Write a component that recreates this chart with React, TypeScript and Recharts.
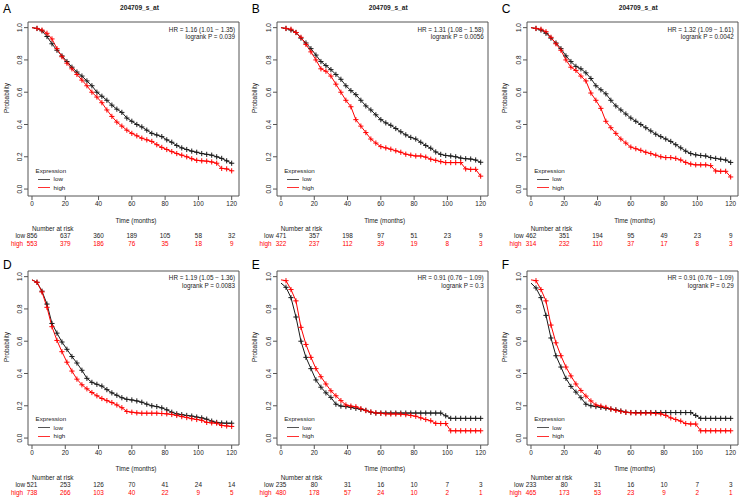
import React from 'react';
import { ComposedChart, Line, XAxis, YAxis, ReferenceArea, Legend } from 'recharts';

// follow-up grid (months) shared by every curve
const TIMES = [0, 3, 6, 9, 12, 15, 18, 21, 24, 27, 30, 33, 36, 39, 42, 45, 48, 51, 54, 57, 60, 63, 66, 69, 72, 75, 78, 81, 84, 87, 90, 93, 96, 99, 102, 105, 108, 111, 114, 117, 120];

const X_TICKS = [0, 20, 40, 60, 80, 100, 120];
const Y_TICKS = [0, 0.2, 0.4, 0.6, 0.8, 1];

// survival probabilities
const A_LOW = [1.0, 0.995, 0.98, 0.945, 0.9, 0.86, 0.825, 0.79, 0.755, 0.725, 0.7, 0.67, 0.64, 0.6, 0.575, 0.55, 0.52, 0.495, 0.475, 0.44, 0.42, 0.4, 0.385, 0.365, 0.345, 0.335, 0.325, 0.305, 0.29, 0.27, 0.255, 0.245, 0.235, 0.228, 0.22, 0.215, 0.21, 0.2, 0.19, 0.175, 0.16];
const A_HIGH = [1.0, 0.995, 0.985, 0.965, 0.93, 0.87, 0.82, 0.78, 0.745, 0.71, 0.675, 0.64, 0.6, 0.57, 0.535, 0.49, 0.45, 0.415, 0.39, 0.365, 0.345, 0.33, 0.315, 0.305, 0.295, 0.275, 0.258, 0.245, 0.232, 0.22, 0.21, 0.2, 0.188, 0.178, 0.175, 0.173, 0.168, 0.16, 0.128, 0.125, 0.113];
const B_LOW = [1.0, 0.995, 0.985, 0.97, 0.935, 0.905, 0.87, 0.83, 0.79, 0.765, 0.74, 0.71, 0.68, 0.64, 0.61, 0.585, 0.55, 0.515, 0.49, 0.46, 0.43, 0.41, 0.395, 0.375, 0.355, 0.336, 0.32, 0.31, 0.29, 0.27, 0.253, 0.23, 0.215, 0.208, 0.205, 0.2, 0.192, 0.188, 0.186, 0.18, 0.166];
const B_HIGH = [1.0, 0.995, 0.99, 0.97, 0.94, 0.896, 0.85, 0.8, 0.745, 0.73, 0.7, 0.65, 0.6, 0.55, 0.51, 0.43, 0.39, 0.35, 0.31, 0.285, 0.263, 0.255, 0.247, 0.237, 0.228, 0.216, 0.21, 0.205, 0.205, 0.198, 0.185, 0.178, 0.17, 0.164, 0.164, 0.164, 0.164, 0.125, 0.122, 0.122, 0.08];
const C_LOW = [1.0, 0.995, 0.985, 0.965, 0.935, 0.905, 0.87, 0.825, 0.79, 0.76, 0.745, 0.72, 0.685, 0.64, 0.615, 0.59, 0.55, 0.515, 0.49, 0.465, 0.44, 0.42, 0.4, 0.38, 0.36, 0.34, 0.325, 0.31, 0.295, 0.275, 0.255, 0.235, 0.22, 0.212, 0.208, 0.205, 0.195, 0.19, 0.185, 0.18, 0.165];
const C_HIGH = [1.0, 0.995, 0.99, 0.975, 0.94, 0.9, 0.86, 0.8, 0.755, 0.735, 0.7, 0.67, 0.595, 0.55, 0.5, 0.42, 0.38, 0.345, 0.31, 0.285, 0.26, 0.25, 0.24, 0.228, 0.22, 0.21, 0.2, 0.195, 0.195, 0.19, 0.18, 0.165, 0.155, 0.15, 0.15, 0.15, 0.145, 0.112, 0.11, 0.11, 0.075];
const D_LOW = [0.98, 0.965, 0.91, 0.83, 0.71, 0.65, 0.595, 0.55, 0.505, 0.465, 0.42, 0.37, 0.345, 0.333, 0.322, 0.3, 0.28, 0.265, 0.25, 0.24, 0.236, 0.23, 0.222, 0.21, 0.2, 0.195, 0.187, 0.175, 0.16, 0.15, 0.145, 0.14, 0.136, 0.13, 0.125, 0.117, 0.105, 0.097, 0.093, 0.092, 0.092];
const D_HIGH = [0.98, 0.965, 0.905, 0.81, 0.69, 0.605, 0.535, 0.47, 0.415, 0.365, 0.33, 0.305, 0.282, 0.262, 0.245, 0.232, 0.22, 0.205, 0.188, 0.165, 0.16, 0.156, 0.154, 0.154, 0.154, 0.154, 0.152, 0.15, 0.146, 0.14, 0.133, 0.127, 0.12, 0.115, 0.11, 0.097, 0.094, 0.092, 0.078, 0.075, 0.072];
const E_LOW = [0.96, 0.934, 0.87, 0.75, 0.6, 0.5, 0.43, 0.36, 0.315, 0.28, 0.252, 0.21, 0.198, 0.195, 0.19, 0.184, 0.178, 0.172, 0.16, 0.155, 0.155, 0.155, 0.155, 0.155, 0.155, 0.155, 0.155, 0.155, 0.155, 0.155, 0.155, 0.155, 0.155, 0.138, 0.122, 0.122, 0.122, 0.122, 0.122, 0.122, 0.122];
const E_HIGH = [0.98, 0.975, 0.92, 0.85, 0.686, 0.58, 0.5, 0.43, 0.38, 0.335, 0.293, 0.262, 0.232, 0.205, 0.198, 0.194, 0.182, 0.17, 0.162, 0.156, 0.153, 0.15, 0.149, 0.149, 0.148, 0.145, 0.14, 0.135, 0.125, 0.115, 0.107, 0.091, 0.09, 0.09, 0.045, 0.045, 0.045, 0.045, 0.045, 0.045, 0.045];
const F_LOW = [0.96, 0.93, 0.87, 0.76, 0.62, 0.51, 0.44, 0.37, 0.32, 0.285, 0.25, 0.21, 0.2, 0.195, 0.19, 0.185, 0.18, 0.175, 0.168, 0.16, 0.158, 0.158, 0.158, 0.158, 0.158, 0.158, 0.158, 0.158, 0.158, 0.158, 0.158, 0.158, 0.158, 0.14, 0.122, 0.122, 0.122, 0.122, 0.122, 0.122, 0.122];
const F_HIGH = [0.98, 0.975, 0.92, 0.85, 0.7, 0.59, 0.51, 0.44, 0.385, 0.335, 0.295, 0.26, 0.23, 0.205, 0.198, 0.19, 0.18, 0.172, 0.165, 0.16, 0.157, 0.155, 0.155, 0.155, 0.155, 0.152, 0.15, 0.14, 0.125, 0.115, 0.105, 0.09, 0.087, 0.087, 0.045, 0.045, 0.045, 0.045, 0.045, 0.045, 0.045];

// number at risk under each x tick
const A_RISK_LOW = [856, 637, 360, 189, 105, 58, 32];
const A_RISK_HIGH = [553, 379, 186, 76, 35, 18, 9];
const B_RISK_LOW = [471, 357, 198, 97, 51, 23, 9];
const B_RISK_HIGH = [322, 237, 112, 39, 19, 8, 3];
const C_RISK_LOW = [462, 351, 194, 95, 49, 23, 9];
const C_RISK_HIGH = [314, 232, 110, 37, 17, 8, 3];
const D_RISK_LOW = [521, 253, 126, 70, 41, 24, 14];
const D_RISK_HIGH = [738, 266, 103, 40, 22, 9, 5];
const E_RISK_LOW = [235, 80, 31, 16, 10, 7, 3];
const E_RISK_HIGH = [480, 178, 57, 24, 10, 2, 1];
const F_RISK_LOW = [233, 80, 31, 16, 10, 7, 3];
const F_RISK_HIGH = [465, 173, 53, 23, 9, 2, 1];

const X_DOMAIN: [number, number] = [-2.4, 124.4];
const Y_DOMAIN: [number, number] = [-0.043, 1.035];

const FONT = '"Liberation Sans", Arial, Helvetica, sans-serif';
const TEXT = '#222';
const RED = '#ff0000';
const BLACK = '#1a1a1a';
const AXIS = '#555';
const FS = 6.4;

const W = 243;
const H = 250;

const PANELS = [
  { letter: 'A', left: 0, top: 0, title: true, low: A_LOW, high: A_HIGH, riskLow: A_RISK_LOW, riskHigh: A_RISK_HIGH, hr: 'HR = 1.16 (1.01 − 1.35)', p: 'logrank P = 0.039' },
  { letter: 'B', left: 248.7, top: 0, title: true, low: B_LOW, high: B_HIGH, riskLow: B_RISK_LOW, riskHigh: B_RISK_HIGH, hr: 'HR = 1.31 (1.08 − 1.58)', p: 'logrank P = 0.0056' },
  { letter: 'C', left: 498.7, top: 0, title: true, low: C_LOW, high: C_HIGH, riskLow: C_RISK_LOW, riskHigh: C_RISK_HIGH, hr: 'HR = 1.32 (1.09 − 1.61)', p: 'logrank P = 0.0042' },
  { letter: 'D', left: 0, top: 248.5, title: false, low: D_LOW, high: D_HIGH, riskLow: D_RISK_LOW, riskHigh: D_RISK_HIGH, hr: 'HR = 1.19 (1.05 − 1.36)', p: 'logrank P = 0.0083' },
  { letter: 'E', left: 248.7, top: 248.5, title: false, low: E_LOW, high: E_HIGH, riskLow: E_RISK_LOW, riskHigh: E_RISK_HIGH, hr: 'HR = 0.91 (0.76 − 1.09)', p: 'logrank P = 0.3' },
  { letter: 'F', left: 498.7, top: 248.5, title: false, low: F_LOW, high: F_HIGH, riskLow: F_RISK_LOW, riskHigh: F_RISK_HIGH, hr: 'HR = 0.91 (0.76 − 1.09)', p: 'logrank P = 0.29' },
];

// censoring "+" marks
const cross = (color: string) => (props: any) => {
  const { cx, cy, index } = props;
  if (index === 0 || cx == null || cy == null) return <g key={`c-${index}`} />;
  return (
    <path
      key={`c-${index}`}
      d={`M${cx - 2.6},${cy}h5.2M${cx},${cy - 2.6}v5.2`}
      stroke={color}
      strokeWidth={1}
      fill="none"
    />
  );
};

const YTick = (props: any) => {
  const { x, y, payload } = props;
  return (
    <text
      x={x}
      y={y}
      transform={`rotate(-90 ${x} ${y})`}
      textAnchor="middle"
      fontSize={FS}
      fill={TEXT}
    >
      {Number(payload.value).toFixed(1)}
    </text>
  );
};

const makeXTick = (riskLow: number[], riskHigh: number[]) => (props: any) => {
  const { x, y, payload } = props;
  const i = X_TICKS.indexOf(payload.value);
  return (
    <g>
      <text x={x} y={y + 4.4} textAnchor="middle" fontSize={FS} fill={TEXT}>{payload.value}</text>
      <text x={x} y={y + 36.4} textAnchor="middle" fontSize={FS} fill={TEXT}>{riskLow[i]}</text>
      <text x={x} y={y + 44.4} textAnchor="middle" fontSize={FS} fill={RED}>{riskHigh[i]}</text>
    </g>
  );
};

const KmLegend = () => (
  <div style={{ fontSize: 6.2, color: TEXT, lineHeight: '8.5px', fontFamily: FONT, whiteSpace: 'nowrap' }}>
    <div>Expression</div>
    <div style={{ display: 'flex', alignItems: 'center' }}>
      <span style={{ display: 'inline-block', width: 12.3, borderTop: '1px solid #555', marginLeft: 2.5, marginRight: 3.3 }} />
      low
    </div>
    <div style={{ display: 'flex', alignItems: 'center' }}>
      <span style={{ display: 'inline-block', width: 12.3, borderTop: '1px solid #ff3030', marginLeft: 2.5, marginRight: 3.3 }} />
      high
    </div>
  </div>
);

const txt: React.CSSProperties = {
  position: 'absolute',
  fontSize: FS,
  lineHeight: '8px',
  color: TEXT,
  whiteSpace: 'nowrap',
};

function KmPanel(props: any) {
  const { letter, left, top, title, low, high, riskLow, riskHigh, hr, p } = props;
  const rows = TIMES.map((t, i) => ({ t, low: low[i], high: high[i] }));
  return (
    <div style={{ position: 'absolute', left, top, width: W, height: H }}>
      <ComposedChart width={W} height={H} data={rows} margin={{ top: 22, right: 4, bottom: 0, left: 0 }}>
        <XAxis
          type="number"
          dataKey="t"
          domain={X_DOMAIN}
          ticks={X_TICKS}
          interval={0}
          height={54}
          tickSize={4}
          tickMargin={2}
          axisLine={false}
          tickLine={{ stroke: AXIS }}
          tick={makeXTick(riskLow, riskHigh)}
          allowDataOverflow
        />
        <YAxis
          type="number"
          domain={Y_DOMAIN}
          ticks={Y_TICKS}
          interval={0}
          width={28}
          tickSize={4}
          tickMargin={2}
          axisLine={false}
          tickLine={{ stroke: AXIS }}
          tick={YTick}
          allowDataOverflow
        />
        <ReferenceArea
          x1={X_DOMAIN[0]}
          x2={X_DOMAIN[1]}
          y1={Y_DOMAIN[0]}
          y2={Y_DOMAIN[1]}
          fill="none"
          stroke={AXIS}
          strokeWidth={1}
          ifOverflow="visible"
        />
        <Line type="linear" dataKey="low" stroke={BLACK} strokeWidth={1} dot={cross(BLACK)} activeDot={false} isAnimationActive={false} />
        <Line type="linear" dataKey="high" stroke={RED} strokeWidth={1} dot={cross(RED)} activeDot={false} isAnimationActive={false} />
        <Legend
          layout="horizontal"
          align="center"
          verticalAlign="middle"
          content={() => <KmLegend />}
          wrapperStyle={{ left: 35.5, top: 166.5, width: 60, height: 27 }}
        />
      </ComposedChart>

      <div style={{ ...txt, left: 3, top: title ? 1.5 : 9, fontSize: 12, lineHeight: '14px', color: '#000' }}>{letter}</div>
      {title && (
        <div style={{ ...txt, left: 0, width: 279, top: 4.3, textAlign: 'center', fontWeight: 'bold', fontSize: 6.6 }}>204709_s_at</div>
      )}
      <div style={{ ...txt, right: 8, top: 25.6, textAlign: 'right', lineHeight: '7.4px', fontSize: 6.3 }}>
        <div>{hr}</div>
        <div>{p}</div>
      </div>
      <div style={{ ...txt, left: 6.5, top: 98, transform: 'translate(-50%, -50%) rotate(-90deg)' }}>Probability</div>
      <div style={{ ...txt, left: 0, width: 272, top: 216.7, textAlign: 'center' }}>Time (months)</div>
      <div style={{ ...txt, left: 32, top: 225 }}>Number at risk</div>
      <div style={{ ...txt, right: W - 25, top: 232.3, textAlign: 'right' }}>low</div>
      <div style={{ ...txt, right: W - 23, top: 240.3, textAlign: 'right', color: RED }}>high</div>
    </div>
  );
}

export default function App() {
  return (
    <div
      style={{
        position: 'absolute',
        left: 0,
        top: 0,
        width: 742,
        height: 499,
        background: '#fff',
        fontFamily: FONT,
        overflow: 'hidden',
      }}
    >
      {PANELS.map((panel) => (
        <KmPanel key={panel.letter} {...panel} />
      ))}
    </div>
  );
}
